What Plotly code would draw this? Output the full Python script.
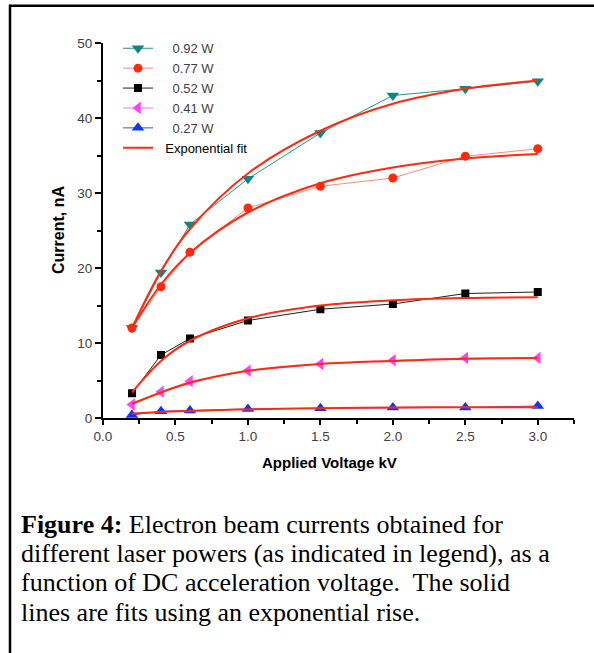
import plotly.graph_objects as go

# ---------------- data ----------------
voltage = [0.2, 0.4, 0.6, 1.0, 1.5, 2.0, 2.5, 3.0]
series_names = ["0.92 W", "0.77 W", "0.52 W", "0.41 W", "0.27 W"]
cur_092 = [12.0, 19.4, 25.8, 31.9, 38.0, 43.0, 43.9, 44.9]
cur_077 = [12.0, 17.5, 22.1, 28.0, 30.9, 32.0, 34.9, 35.9]
cur_052 = [3.3, 8.4, 10.6, 13.0, 14.5, 15.2, 16.6, 16.8]
cur_041 = [1.8, 3.5, 4.9, 6.3, 7.2, 7.7, 8.0, 8.0]
cur_027 = [0.4, 0.9, 1.0, 1.2, 1.3, 1.4, 1.4, 1.6]

fit_voltage = [0.2, 0.4, 0.6, 1.0, 1.5, 2.0, 2.5, 3.0]
fit_092 = [12.0, 19.6, 25.2, 32.6, 38.3, 41.9, 43.9, 45.0]
fit_077 = [12.0, 17.8, 22.0, 27.4, 31.3, 33.4, 34.6, 35.2]
fit_052 = [3.4, 7.6, 10.3, 13.3, 15.0, 15.7, 16.0, 16.1]
fit_041 = [1.9, 3.4, 4.7, 6.3, 7.2, 7.6, 7.9, 8.0]
fit_027 = [0.6, 0.8, 0.95, 1.15, 1.3, 1.4, 1.45, 1.45]

x_ticks = [0.0, 0.5, 1.0, 1.5, 2.0, 2.5, 3.0]
y_ticks = [0, 10, 20, 30, 40, 50]

caption_lines = [
    "<b>Figure 4:</b> Electron beam currents obtained for",
    "different laser powers (as indicated in legend), as a",
    "function of DC acceleration voltage.  The solid",
    "lines are fits using an exponential rise.",
]

# ---------------- styles ----------------
W, H = 594, 653
L, R, T, B = 103, 20, 42.7, 234.7
plot_w = W - L - R
plot_h = H - T - B

def px(x):
    return (x - L) / plot_w

def py(y):
    return (H - B - y) / plot_h

data_series = [cur_092, cur_077, cur_052, cur_041, cur_027]
fit_series = [fit_092, fit_077, fit_052, fit_041, fit_027]
marker_sym = ["triangle-down", "circle", "square", "triangle-left", "triangle-up"]
marker_col = ["#108585", "#ff2a10", "#000000", "#ff40ff", "#1034ff"]
line_col = ["#2a9090", "#ff8a7a", "#202020", "#ff70ff", "#3050ff"]
marker_sz = [11, 9, 8, 11, 11]
FIT_COLOR = "#ff2a10"
NB = "\u00a0"

fig = go.Figure()

for i, ys in enumerate(data_series):
    fig.add_trace(go.Scatter(
        x=voltage, y=ys, mode="lines+markers",
        name=NB * 4 + series_names[i],
        line=dict(color=line_col[i], width=1),
        marker=dict(symbol=marker_sym[i], size=marker_sz[i], color=marker_col[i],
                    line=dict(width=0)),
        cliponaxis=False,
    ))

for i, ys in enumerate(fit_series):
    fig.add_trace(go.Scatter(
        x=fit_voltage, y=ys, mode="lines", line_shape="spline",
        name=NB * 2 + "<span style=\"color:#000000\">Exponential fit</span>",
        showlegend=(i == 0),
        line=dict(color=FIT_COLOR, width=2),
        cliponaxis=False,
    ))

# caption lines
cap_y = [525, 554, 583, 613]
annotations = []
for txt, yy in zip(caption_lines, cap_y):
    annotations.append(dict(
        text=txt, x=px(19), y=py(yy), xref="paper", yref="paper",
        xanchor="left", yanchor="middle", showarrow=False,
        font=dict(family="Liberation Serif, Times New Roman, serif", size=26, color="#000000"),
    ))

# axis titles
annotations.append(dict(
    text="<b>Applied Voltage kV</b>", x=px(329), y=py(463), xref="paper", yref="paper",
    xanchor="center", yanchor="middle", showarrow=False,
    font=dict(family="Liberation Sans, Arial, sans-serif", size=15, color="#000000"),
))
annotations.append(dict(
    text="<b>Current, nA</b>", x=px(58), y=py(230), xref="paper", yref="paper",
    xanchor="center", yanchor="middle", showarrow=False, textangle=-90,
    font=dict(family="Liberation Sans, Arial, sans-serif", size=16, color="#000000"),
))

shapes = [
    dict(type="line", xref="paper", yref="paper", x0=px(9), x1=px(W + 2), y0=py(5.5), y1=py(5.5),
         line=dict(color="#000000", width=2.5)),
    dict(type="line", xref="paper", yref="paper", x0=px(10), x1=px(10), y0=py(4.5), y1=py(H + 2),
         line=dict(color="#000000", width=2.5)),
]

tickfont = dict(family="Liberation Sans, Arial, sans-serif", size=13.5, color="#404040")

fig.update_layout(
    width=W, height=H,
    margin=dict(l=L, r=R, t=T, b=B, pad=0),
    paper_bgcolor="#ffffff", plot_bgcolor="#ffffff",
    showlegend=True,
    legend=dict(
        x=px(118), y=py(33), xanchor="left", yanchor="top",
        bgcolor="rgba(0,0,0,0)", borderwidth=0,
        font=dict(family="Liberation Sans, Arial, sans-serif", size=13, color="#404040"),
        tracegroupgap=0,
    ),
    xaxis=dict(
        range=[0, 3.25], tickvals=x_ticks, ticktext=[f"{v:.1f}" for v in x_ticks],
        showgrid=False, zeroline=False, showline=True, linecolor="#000000", linewidth=2,
        ticks="outside", ticklen=5, tickwidth=1.5, tickcolor="#000000",
        minor=dict(dtick=0.25, tick0=0, ticks="outside", ticklen=4, tickwidth=1.5, tickcolor="#000000"),
        tickfont=tickfont,
    ),
    yaxis=dict(
        range=[0, 50], tickvals=y_ticks, ticktext=[str(v) for v in y_ticks],
        showgrid=False, zeroline=False, showline=True, linecolor="#000000", linewidth=2,
        ticks="outside", ticklen=6, tickwidth=1.5, tickcolor="#000000",
        minor=dict(dtick=5, tick0=0, ticks="outside", ticklen=4, tickwidth=1.5, tickcolor="#000000"),
        tickfont=tickfont,
    ),
    annotations=annotations,
    shapes=shapes,
)

fig.write_html("out.html")
